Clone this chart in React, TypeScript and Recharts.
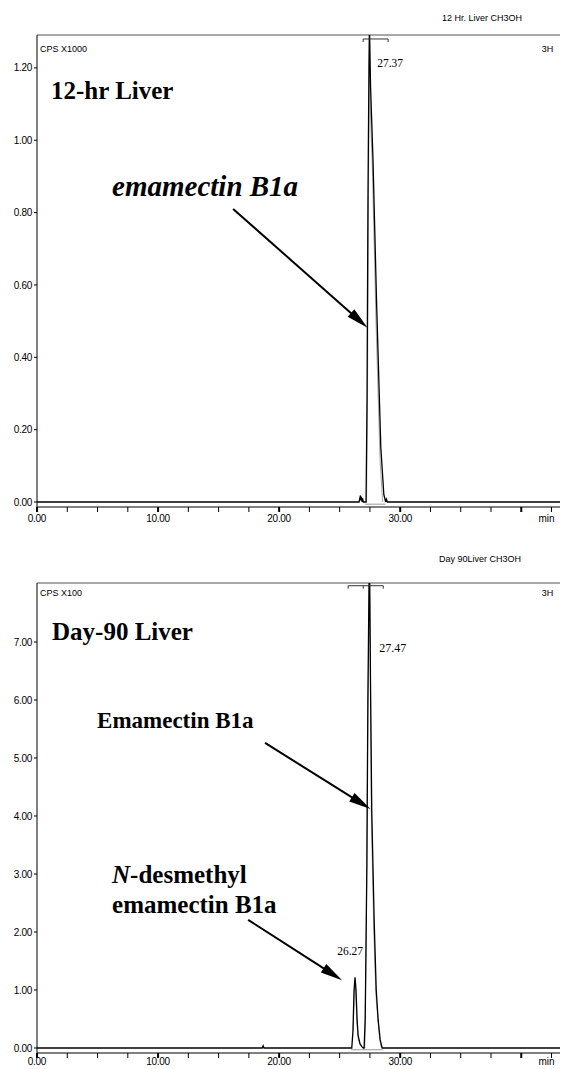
import React from 'react';
import { LineChart, Line, XAxis, YAxis, ReferenceLine, ReferenceDot } from 'recharts';

const SANS = '"Liberation Sans", Arial, sans-serif';
const SERIF = '"Liberation Serif", "Times New Roman", serif';

// ---- shared time axis (min) ----
const xTicks = [0, 2.5, 5, 7.5, 10, 12.5, 15, 17.5, 20, 22.5, 25, 27.5, 30, 32.5, 35, 37.5, 40, 42.5];
const xLabelTicks = [0, 10, 20, 30];
const xDomain = [0, 43.2];

// ---- Top: 12-hr Liver (CPS x1000) ----
const topYTicks = [0, 0.2, 0.4, 0.6, 0.8, 1.0, 1.2];
const topYDomain = [-0.0138, 1.291];
const topTimes = [0, 26.6, 26.72, 26.76, 26.8, 26.86, 26.9, 26.95, 27.18, 27.26, 27.34, 27.42, 27.46, 27.55, 27.75, 28.05, 28.4, 28.65, 28.8, 28.86, 28.95, 43.2];
const topSignal = [0, 0, 0.018, 0.004, 0.014, 0, 0.01, 0, 0, 0.28, 0.85, 1.2, 1.32, 1.15, 0.95, 0.55, 0.15, 0.02, 0, 0.008, 0, 0];
const topFitTimes = [27.22, 27.3, 27.38, 27.46, 27.52, 27.72, 28.0, 28.33, 28.55];
const topFitSignal = [0, 0.3, 0.85, 1.25, 1.1, 0.9, 0.5, 0.12, 0];
const topBaseTimes = [27.12, 28.78];
const topBaseSignal = [-0.006, -0.006];

// ---- Bottom: Day-90 Liver (CPS x100) ----
const botYTicks = [0, 1, 2, 3, 4, 5, 6, 7];
const botYDomain = [-0.086, 8.017];
const botTimes = [0, 18.6, 18.68, 18.75, 26.0, 26.1, 26.19, 26.27, 26.35, 26.44, 26.52, 26.68, 26.85, 26.95, 27.02, 27.11, 27.25, 27.33, 27.44, 27.47, 27.56, 27.65, 27.85, 28.02, 28.18, 28.35, 28.51, 43.2];
const botSignal = [0, 0, 0.04, 0, 0, 0.3, 1.0, 1.22, 1.0, 0.5, 0.22, 0.07, 0.02, 0, 0, 0.5, 3.2, 6.0, 8.3, 8.3, 6.0, 4.1, 2.2, 1.0, 0.48, 0.14, 0, 0];
const botFitTimes = [27.08, 27.2, 27.3, 27.4, 27.46, 27.52, 27.62, 27.82, 28.0, 28.3, 28.45];
const botFitSignal = [0, 2.0, 5.0, 7.0, 8.3, 7.0, 4.0, 2.0, 0.9, 0.15, 0];
const botFit2Times = [26.12, 26.2, 26.27, 26.33, 26.42, 26.55];
const botFit2Signal = [0.3, 0.95, 1.15, 0.95, 0.45, 0.12];
const botBaseTimes = [25.95, 28.55];
const botBaseSignal = [-0.03, -0.03];

const pts = (ts: number[], vs: number[]) => ts.map((t, i) => ({ t, v: vs[i] }));

const XTick = (props: any) => {
  const { x, y, payload, labelDy = 15 } = props;
  const v = payload.value as number;
  const major = v % 10 === 0;
  return (
    <g>
      <line x1={x} x2={x} y1={y} y2={y + 5} stroke="#000" strokeWidth={major ? 2 : 1} />
      {xLabelTicks.includes(v) && (
        <text x={x} y={y + labelDy} textAnchor="middle" fontSize={10} fontFamily={SANS} fill="#000" letterSpacing={-0.3}>
          {v.toFixed(2)}
        </text>
      )}
      {v === 42.5 && (
        <text x={x - 5} y={y + labelDy} textAnchor="middle" fontSize={10} fontFamily={SANS} fill="#000">min</text>
      )}
    </g>
  );
};

const Arrow = (props: any) => {
  const { x1, y1, x2, y2 } = props;
  const dx = x2 - x1, dy = y2 - y1;
  const len = Math.hypot(dx, dy) || 1;
  const ux = dx / len, uy = dy / len;
  const hl = 22, hw = 5;
  const bx = x2 - ux * hl, by = y2 - uy * hl;
  const px = -uy, py = ux;
  return (
    <g>
      <line x1={x1} y1={y1} x2={bx + ux * 2} y2={by + uy * 2} stroke="#000" strokeWidth={2} />
      <polygon points={`${x2},${y2} ${bx + px * hw},${by + py * hw} ${bx - px * hw},${by - py * hw}`} fill="#000" />
    </g>
  );
};

const Bracket = (mid?: number) => (props: any) => {
  const { x1, y1, x2 } = props;
  return (
    <g stroke="#333" strokeWidth={1} fill="none">
      <line x1={x1} y1={y1} x2={x2} y2={y1} />
      <line x1={x1} y1={y1} x2={x1} y2={y1 + 3} />
      <line x1={x2} y1={y1} x2={x2} y2={y1 + 3} />
      {mid !== undefined && <line x1={x1 + (x2 - x1) * mid} y1={y1} x2={x1 + (x2 - x1) * mid} y2={y1 + 3} />}
    </g>
  );
};

const txt = (content: React.ReactNode, style: any) => (p: any) => (
  <text x={p.cx} y={p.cy} fill="#000" {...style}>{content}</text>
);

const big = { fontFamily: SERIF, fontWeight: 'bold', fontSize: 25 };
const small = { fontFamily: SANS, fontSize: 9 };
const rt = { fontFamily: SERIF, fontSize: 11.5 };

const yTickStyle = { fontSize: 10, fontFamily: SANS, fill: '#000', letterSpacing: -0.3 };

export default function App() {
  return (
    <div style={{ position: 'absolute', left: 0, top: 0, width: 561, height: 1069, background: '#fff', overflow: 'hidden' }}>
      <div style={{ position: 'absolute', left: 442, top: 13, fontFamily: SANS, fontSize: 9, lineHeight: '10px', whiteSpace: 'nowrap' }}>
        12 Hr. Liver CH3OH
      </div>
      <div style={{ position: 'absolute', left: 439, top: 554, fontFamily: SANS, fontSize: 9, lineHeight: '10px', whiteSpace: 'nowrap' }}>
        Day 90Liver CH3OH
      </div>

      <div style={{ position: 'absolute', left: 0, top: 0 }}>
        <LineChart width={561} height={530} margin={{ top: 35, right: 1, left: 0, bottom: 0 }}>
          <XAxis dataKey="t" type="number" domain={xDomain} ticks={xTicks} interval={0} allowDataOverflow
            height={23} tickSize={0} tickMargin={0} tickLine={false} tick={<XTick labelDy={15} />} axisLine={{ stroke: '#000' }} />
          <YAxis type="number" domain={topYDomain} ticks={topYTicks} interval={0} allowDataOverflow width={37}
            tickSize={3} tickMargin={2} tickFormatter={(v: number) => v.toFixed(2)} tick={yTickStyle}
            axisLine={{ stroke: '#000' }} tickLine={{ stroke: '#000' }} />
          <ReferenceLine y={topYDomain[1]} stroke="#555" ifOverflow="visible" />
          <Line data={pts(topBaseTimes, topBaseSignal)} dataKey="v" stroke="#999" strokeWidth={1} dot={false} isAnimationActive={false} type="linear" />
          <Line data={pts(topFitTimes, topFitSignal)} dataKey="v" stroke="#aaa" strokeWidth={1} dot={false} isAnimationActive={false} type="linear" />
          <Line data={pts(topTimes, topSignal)} dataKey="v" stroke="#000" strokeWidth={1.3} dot={false} isAnimationActive={false} type="linear" />
          <ReferenceLine segment={[{ x: 26.94, y: 1.28 }, { x: 29.0, y: 1.28 }]} shape={Bracket()} ifOverflow="visible" />
          <ReferenceLine segment={[{ x: 16.2, y: 0.81 }, { x: 27.3, y: 0.482 }]} shape={Arrow} ifOverflow="visible" />
          <ReferenceDot x={0.25} y={1.244} ifOverflow="visible" shape={txt('CPS X1000', small)} />
          <ReferenceDot x={42.64} y={1.244} ifOverflow="visible" shape={txt('3H', { ...small, textAnchor: 'end' })} />
          <ReferenceDot x={1.16} y={1.114} ifOverflow="visible" shape={txt('12-hr Liver', big)} />
          <ReferenceDot x={6.2} y={0.846} ifOverflow="visible" shape={txt('emamectin B1a', { ...big, fontSize: 29, fontStyle: 'italic' })} />
          <ReferenceDot x={28.1} y={1.203} ifOverflow="visible" shape={txt('27.37', rt)} />
        </LineChart>
      </div>

      <div style={{ position: 'absolute', left: 0, top: 530 }}>
        <LineChart width={561} height={539} margin={{ top: 53, right: 1, left: 0, bottom: 0 }}>
          <XAxis dataKey="t" type="number" domain={xDomain} ticks={xTicks} interval={0} allowDataOverflow
            height={16} tickSize={0} tickMargin={0} tickLine={false} tick={<XTick labelDy={12} />} axisLine={{ stroke: '#000' }} />
          <YAxis type="number" domain={botYDomain} ticks={botYTicks} interval={0} allowDataOverflow width={37}
            tickSize={3} tickMargin={2} tickFormatter={(v: number) => v.toFixed(2)} tick={yTickStyle}
            axisLine={{ stroke: '#000' }} tickLine={{ stroke: '#000' }} />
          <ReferenceLine y={botYDomain[1]} stroke="#555" ifOverflow="visible" />
          <Line data={pts(botBaseTimes, botBaseSignal)} dataKey="v" stroke="#999" strokeWidth={1} dot={false} isAnimationActive={false} type="linear" />
          <Line data={pts(botFitTimes, botFitSignal)} dataKey="v" stroke="#aaa" strokeWidth={1} dot={false} isAnimationActive={false} type="linear" />
          <Line data={pts(botFit2Times, botFit2Signal)} dataKey="v" stroke="#aaa" strokeWidth={1} dot={false} isAnimationActive={false} type="linear" />
          <Line data={pts(botTimes, botSignal)} dataKey="v" stroke="#000" strokeWidth={1.3} dot={false} isAnimationActive={false} type="linear" />
          <ReferenceLine segment={[{ x: 25.7, y: 7.97 }, { x: 28.6, y: 7.97 }]} shape={Bracket(0.43)} ifOverflow="visible" />
          <ReferenceLine segment={[{ x: 18.84, y: 5.26 }, { x: 27.55, y: 4.12 }]} shape={Arrow} ifOverflow="visible" />
          <ReferenceLine segment={[{ x: 17.44, y: 2.21 }, { x: 25.2, y: 1.17 }]} shape={Arrow} ifOverflow="visible" />
          <ReferenceDot x={0.25} y={7.79} ifOverflow="visible" shape={txt('CPS X100', small)} />
          <ReferenceDot x={42.64} y={7.79} ifOverflow="visible" shape={txt('3H', { ...small, textAnchor: 'end' })} />
          <ReferenceDot x={1.24} y={7.03} ifOverflow="visible" shape={txt('Day-90 Liver', big)} />
          <ReferenceDot x={4.96} y={5.52} ifOverflow="visible" shape={txt('Emamectin B1a', { ...big, fontSize: 23 })} />
          <ReferenceDot x={6.2} y={2.84} ifOverflow="visible"
            shape={txt(<><tspan fontStyle="italic">N</tspan>-desmethyl</>, big)} />
          <ReferenceDot x={6.2} y={2.33} ifOverflow="visible" shape={txt('emamectin B1a', big)} />
          <ReferenceDot x={28.26} y={6.82} ifOverflow="visible" shape={txt('27.47', { ...rt, fontSize: 12 })} />
          <ReferenceDot x={24.8} y={1.6} ifOverflow="visible" shape={txt('26.27', { ...rt, fontSize: 11.5 })} />
        </LineChart>
      </div>
    </div>
  );
}
